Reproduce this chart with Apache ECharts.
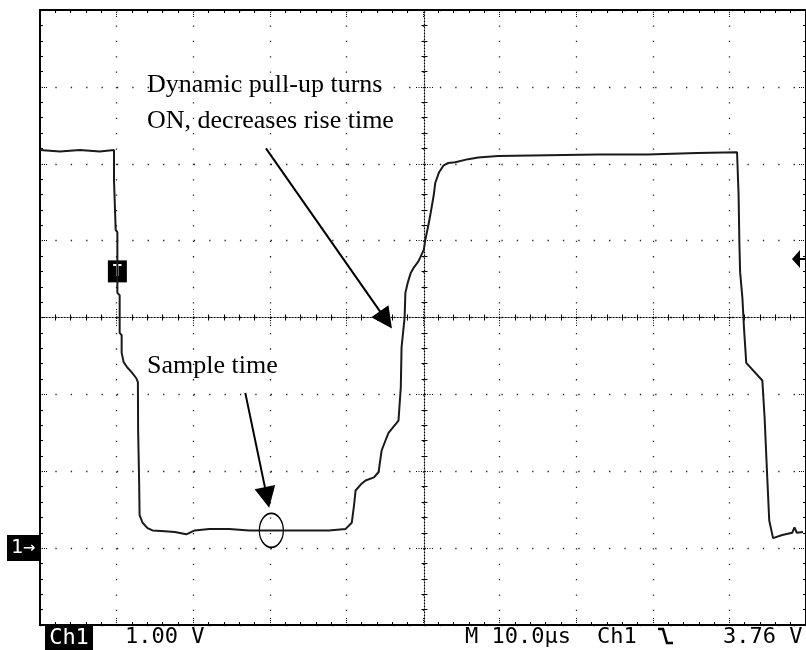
<!DOCTYPE html>
<html><head><meta charset="utf-8">
<script src="https://cdn.jsdelivr.net/npm/echarts@6/dist/echarts.min.js"></script>
<style>html,body{margin:0;padding:0;background:#fff}#c{width:806px;height:650px}</style>
</head><body><div id="c"></div>
<script>
// ---- data (time in µs, voltage in V) ----
const timeUs = [0, 2.6, 5.2, 7.8, 9.66, 9.66, 9.88, 9.88, 10.1, 10.1, 10.4, 10.4, 10.66, 10.66, 10.92, 11.4, 11.96, 12.57, 12.78, 12.81, 12.94, 13.0, 13.39, 14.04, 14.69, 16.3, 17.6, 19.1, 20.2, 22.1, 24.7, 27.3, 29.9, 32.5, 35.1, 37.7, 39.9, 40.7, 41.0, 41.2, 41.9, 42.5, 43.6, 44.2, 44.6, 45.1, 45.5, 46.4, 46.8, 47.1, 47.2, 47.6, 47.7, 48.0, 48.4, 48.8, 49.4, 50.1, 50.3, 50.7, 51.0, 51.4, 51.6, 52.1, 52.7, 53.3, 54.2, 55.9, 57.2, 59.8, 66.3, 72.8, 79.3, 85.8, 91.0, 91.2, 91.3, 91.4, 91.7, 91.9, 92.2, 92.4, 94.3, 94.6, 94.9, 95.2, 95.7, 96.9, 98.2, 98.5, 98.8, 99.6];
const volts  = [5.18, 5.16, 5.18, 5.16, 5.18, 4.79, 4.77, 4.14, 4.11, 3.32, 3.29, 2.80, 2.77, 2.54, 2.42, 2.35, 2.29, 2.21, 2.16, 1.53, 0.88, 0.43, 0.33, 0.26, 0.23, 0.22, 0.21, 0.18, 0.23, 0.25, 0.25, 0.23, 0.23, 0.23, 0.23, 0.23, 0.25, 0.33, 0.56, 0.75, 0.83, 0.88, 0.92, 0.99, 1.27, 1.40, 1.50, 1.61, 1.66, 2.09, 2.61, 3.00, 3.32, 3.45, 3.58, 3.65, 3.73, 3.88, 4.01, 4.20, 4.36, 4.59, 4.75, 4.89, 4.98, 5.01, 5.02, 5.06, 5.08, 5.10, 5.11, 5.12, 5.12, 5.14, 5.15, 4.59, 3.98, 3.59, 3.25, 2.87, 2.41, 2.39, 2.18, 1.69, 1.01, 0.36, 0.13, 0.17, 0.20, 0.27, 0.20, 0.21];

// axis scales: 10 µs/div, 1 V/div, ground at 0 V
const xMin = 0, xMax = 100, xStep = 10;
const yMin = -1, yMax = 7, yStep = 1;

// annotations (data coordinates)
const arrowPullUp = [[29.5, 5.20], [45.16, 2.97]];
const arrowSample = [[26.8, 2.02], [29.64, 0.66]];
const sampleCircle = [30.2, 0.23];
const triggerMark = [10.1, 3.60];

// texts
const noteLines = ['Dynamic pull-up turns', 'ON, decreases rise time'];
const noteSample = 'Sample time';
const chLabel = 'Ch1';
const voltsPerDiv = '1.00 V';
const timePerDiv = 'M 10.0µs';
const trigSource = 'Ch1';
const trigLevel = '3.76 V';
const groundMark = '1→';

const series = timeUs.map((t, i) => [t, volts[i]]);

const chart = echarts.init(document.getElementById('c'), null, {renderer: 'canvas'});

const dotGrid = {show: true, lineStyle: {color: '#222', width: 1.3, type: [1.3, 14.08]}};
function borderAxis(pos, split, extra) {
  return Object.assign({
    type: 'value', gridIndex: 0, position: pos,
    axisLine: {show: true, onZero: false, lineStyle: {color: '#000', width: 2}},
    axisTick: {show: true, inside: true, length: 7, lineStyle: {color: '#000', width: 1, type: [1, 1]}},
    minorTick: {show: true, splitNumber: 5, length: 3, lineStyle: {color: '#000', width: 1}},
    axisLabel: {show: false},
    splitLine: split ? dotGrid : {show: false},
    minorSplitLine: {show: false}
  }, extra);
}
function centerAxis(pos, offset, inside, showLine, extra) {
  return Object.assign({
    type: 'value', gridIndex: 0, position: pos, offset: offset,
    axisLine: {show: showLine, onZero: false, lineStyle: {color: '#000', width: 1.2, type: [1.2, 1.8]}},
    axisTick: {show: true, inside: inside, length: 9, lineStyle: {color: '#000', width: 1, type: [1, 1.5]}},
    minorTick: {show: true, splitNumber: 5, length: 3, lineStyle: {color: '#000', width: 1}},
    axisLabel: {show: false},
    splitLine: {show: false}
  }, extra);
}
const xr = {min: xMin, max: xMax, interval: xStep};
const yr = {min: yMin, max: yMax, interval: yStep};

const mono = '22px "DejaVu Sans Mono"';
const serif = '26px "Liberation Serif"';

chart.setOption({
  animation: false,
  backgroundColor: '#fff',
  grid: {left: 40, top: 10, width: 769, height: 615, containLabel: false},
  xAxis: [
    borderAxis('bottom', true, xr),
    borderAxis('top', false, xr),
    centerAxis('bottom', -307.5, true, true, xr),
    centerAxis('bottom', -307.5, false, false, xr)
  ],
  yAxis: [
    borderAxis('left', true, yr),
    borderAxis('right', false, yr),
    centerAxis('left', -384.5, true, true, yr),
    centerAxis('left', -384.5, false, false, yr)
  ],
  series: [{
    type: 'line', xAxisIndex: 0, yAxisIndex: 0, data: series,
    showSymbol: false, symbol: 'none', z: 5, clip: true,
    lineStyle: {color: '#1a1a1a', width: 2},
    markLine: {
      silent: true, symbol: ['none', 'triangle'], symbolSize: 21,
      lineStyle: {color: '#000', width: 2, type: 'solid'},
      itemStyle: {color: '#000'},
      label: {show: false},
      data: [
        [{coord: arrowPullUp[0]}, {coord: arrowPullUp[1]}],
        [{coord: arrowSample[0]}, {coord: arrowSample[1]}]
      ]
    },
    markPoint: {
      silent: true,
      data: [
        {coord: sampleCircle, symbol: 'circle', symbolSize: [24, 34],
         itemStyle: {color: 'rgba(0,0,0,0)', borderColor: '#000', borderWidth: 1.5},
         label: {show: false}},
        {coord: triggerMark, symbol: 'rect', symbolSize: [19, 22],
         itemStyle: {color: '#000'},
         label: {show: true, position: 'inside', formatter: 'T', color: '#fff',
                 fontFamily: 'DejaVu Sans Mono', fontSize: 16, fontWeight: 'bold'}}
      ]
    }
  }],
  graphic: [
    {type: 'text', x: 147, y: 85, z: 10, style: {text: noteLines[0], font: serif, fill: '#000', verticalAlign: 'middle'}},
    {type: 'text', x: 147, y: 121, z: 10, style: {text: noteLines[1], font: serif, fill: '#000', verticalAlign: 'middle'}},
    {type: 'text', x: 147, y: 366, z: 10, style: {text: noteSample, font: serif, fill: '#000', verticalAlign: 'middle'}},
    {type: 'rect', shape: {x: 45, y: 626, width: 48, height: 24}, style: {fill: '#000'}, z: 10},
    {type: 'text', x: 69, y: 638, z: 11, style: {text: chLabel, font: mono, fill: '#fff', align: 'center', verticalAlign: 'middle'}},
    {type: 'text', x: 125, y: 637, z: 10, style: {text: voltsPerDiv, font: mono, fill: '#000', verticalAlign: 'middle'}},
    {type: 'text', x: 465, y: 637, z: 10, style: {text: timePerDiv, font: mono, fill: '#000', verticalAlign: 'middle'}},
    {type: 'text', x: 597, y: 637, z: 10, style: {text: trigSource, font: mono, fill: '#000', verticalAlign: 'middle'}},
    {type: 'polyline', shape: {points: [[658, 629], [663, 629], [667, 643], [673, 643]]}, style: {stroke: '#000', lineWidth: 2.5, fill: null}, z: 10},
    {type: 'text', x: 723, y: 637, z: 10, style: {text: trigLevel, font: mono, fill: '#000', verticalAlign: 'middle'}},
    {type: 'rect', shape: {x: 7, y: 535, width: 32, height: 26}, style: {fill: '#000'}, z: 10},
    {type: 'text', x: 23, y: 548, z: 11, style: {text: groundMark, font: '20px "DejaVu Sans Mono"', fill: '#fff', align: 'center', verticalAlign: 'middle'}},
    {type: 'polygon', shape: {points: [[792, 259], [800, 250], [800, 268]]}, style: {fill: '#000'}, z: 10},
    {type: 'line', shape: {x1: 798, y1: 259, x2: 806, y2: 259}, style: {stroke: '#000', lineWidth: 2}, z: 10}
  ]
});
</script>
</body></html>
